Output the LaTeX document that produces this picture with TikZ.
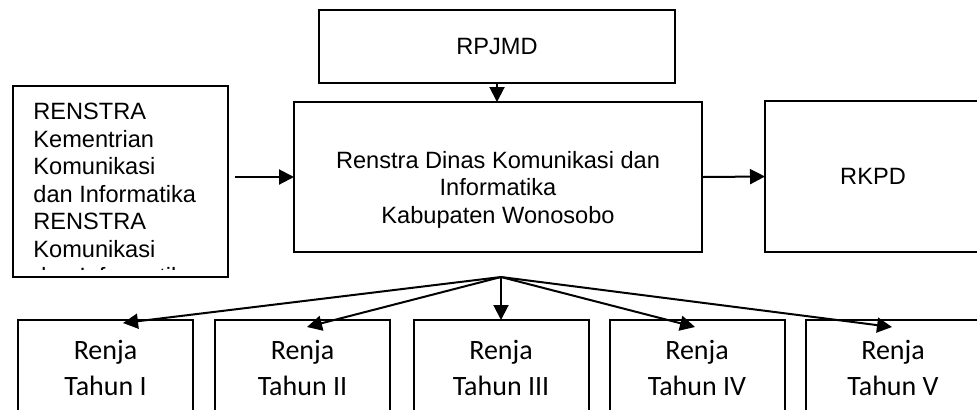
\documentclass[tikz,border=0pt]{standalone}
\usepackage{fontspec}
\setmainfont{Liberation Sans}
\newfontfamily\renjafont{Carlito}
\usetikzlibrary{arrows.meta}

\tikzset{
  kotak/.style={draw, line width=1pt, inner sep=0pt, outer sep=0pt},
  panah/.style={line width=1pt, -{Triangle[length=7.5pt,width=7.5pt]}},
  teks/.style={font=\fontsize{11.8pt}{13.75pt}\selectfont, align=center, inner sep=0pt},
  renja/.style={kotak, minimum width=87.5pt, minimum height=48pt, align=center,
    font=\renjafont\fontsize{14pt}{18pt}\selectfont}
}

\begin{document}
\begin{tikzpicture}[x=0.5pt, y=-0.5pt]
  \clip (0,0) rectangle (977,409);
  % kotak atas
  \node[kotak, teks, minimum width=178pt, minimum height=36.5pt] (rpjmd) at (497,46.5) {RPJMD};
  \node[kotak, minimum width=204pt, minimum height=75pt] (renstra) at (498,177) {};
  \node[teks] (renstrateks) at (498,189.5) {Renstra Dinas Komunikasi dan\\Informatika\\Kabupaten Wonosobo};
  \node[kotak, teks, minimum width=108pt, minimum height=75.5pt] (rkpd) at (873,176.5) {RKPD};
  \node[kotak, minimum width=107.75pt, minimum height=95.5pt] (renstrakem) at (120.25,181.5) {};
  \begin{scope}
    \clip (12.5,86) rectangle (228,269.5);
    \node[teks, align=left, anchor=north west] (renstrakemteks) at (33,103)
      {RENSTRA\\Kementrian\\Komunikasi\\dan Informatika\\RENSTRA\\Komunikasi\\dan Informatika};
  \end{scope}
  % renja
  \foreach \nomor/\posx/\tahun in {1/105.5/I, 2/302.5/II, 3/501/III, 4/697/IV, 5/893/V}
    \node[renja] (r\nomor) at (\posx,368) {Renja\\Tahun \tahun};
  % panah
  \draw[panah] (rpjmd.south) -- (rpjmd.south |- renstra.north);
  \draw[panah, shorten <=3.5pt] (renstrakem.east |- renstra.west) -- (renstra.west);
  \draw[panah] (renstra.east) -- (rkpd.west);
  \coordinate (fan) at (501,277);
  \draw[panah] (fan) -- ([xshift=8.75pt,yshift=-1.5pt]r1.north);
  \draw[panah] (fan) -- ([xshift=2.25pt,yshift=-3.5pt]r2.north);
  \draw[panah] (fan) -- (r3.north);
  \draw[panah] (fan) -- ([xshift=-1pt,yshift=-3.5pt]r4.north);
  \draw[panah] (fan) -- ([xshift=-0.5pt,yshift=-3.5pt]r5.north);
\end{tikzpicture}
\end{document}
